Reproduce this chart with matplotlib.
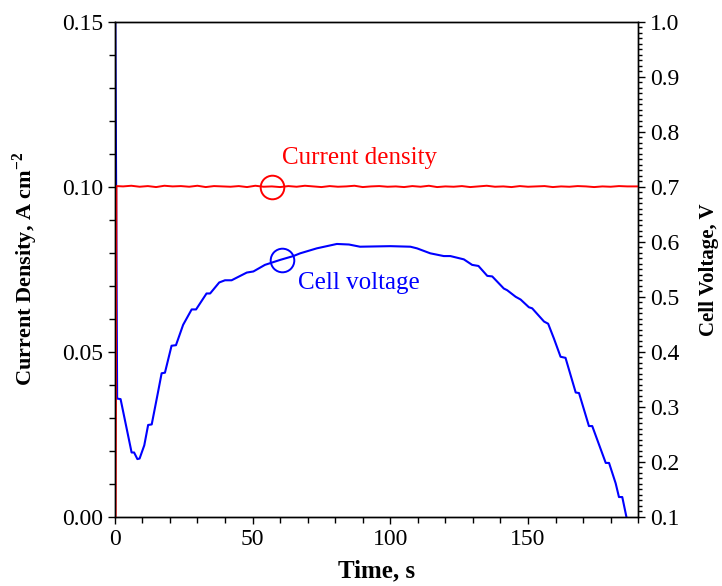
import numpy as np
import matplotlib
matplotlib.use("Agg")
import matplotlib.pyplot as plt
from matplotlib.ticker import MultipleLocator

plt.rcParams['font.family'] = ['Liberation Serif', 'DejaVu Serif']
plt.rcParams['mathtext.fontset'] = 'custom'
plt.rcParams['mathtext.rm'] = 'Liberation Serif'
plt.rcParams['mathtext.bf'] = 'Liberation Serif:bold'

# current density (A cm-2) vs time (s)
t_current = [0.0, 0.3, 0.6, 3, 6, 9, 12, 15, 18, 21, 24, 27, 30, 33, 36, 39, 42, 45,
             48, 51, 54, 57, 60, 63, 66, 69, 72, 75, 78, 81, 84, 87, 90, 93, 96, 99,
             102, 105, 108, 111, 114, 117, 120, 123, 126, 129, 132, 135, 138, 141,
             144, 147, 150, 153, 156, 159, 162, 165, 168, 171, 174, 177, 180, 183,
             186, 190]
current = [0.0, 0.0, 0.1002, 0.1001, 0.1003, 0.1000, 0.1002, 0.0999, 0.1003, 0.1001,
           0.1002, 0.1000, 0.1003, 0.0999, 0.1002, 0.1001, 0.1000, 0.1002, 0.0999,
           0.1003, 0.1000, 0.1001, 0.0999, 0.1002, 0.1000, 0.1003, 0.1001, 0.0999,
           0.1002, 0.1000, 0.1001, 0.1003, 0.0999, 0.1001, 0.1002, 0.1000, 0.1001,
           0.0999, 0.1002, 0.1000, 0.1003, 0.0999, 0.1001, 0.1000, 0.1002, 0.0999,
           0.1001, 0.1003, 0.1000, 0.1001, 0.0999, 0.1002, 0.1000, 0.1001, 0.1002,
           0.0999, 0.1001, 0.1000, 0.1002, 0.1001, 0.0999, 0.1001, 0.1000, 0.1002,
           0.1001, 0.1001]

# cell voltage (V) vs time (s)
t_voltage = [0.2, 0.85, 2.1, 6.1, 7.0, 8.2, 9.0, 10.7, 12.1, 13.4, 15.7, 17.0, 18.2,
             20.6, 22.2, 24.8, 27.9, 29.5, 33.3, 34.6, 37.9, 40.0, 42.4, 47.9, 50.3,
             54.5, 60.0, 64.8, 67.3, 73.3, 80.6, 85.0, 89.0, 100.0, 107.3, 109.7,
             114.5, 119.4, 121.8, 126.7, 129.7, 132.0, 135.2, 137.0, 141.2, 142.4,
             145.5, 147.3, 150.3, 151.5, 155.8, 157.3, 159.4, 161.8, 163.6, 167.3,
             168.5, 172.1, 173.3, 178.2, 179.4, 181.8, 183.0, 184.2, 185.7, 186.5]
voltage = [1.00, 0.315, 0.314, 0.217, 0.217, 0.205, 0.206, 0.230, 0.267, 0.268, 0.327,
           0.361, 0.362, 0.411, 0.412, 0.449, 0.477, 0.477, 0.506, 0.506, 0.526, 0.530,
           0.530, 0.544, 0.546, 0.558, 0.567, 0.574, 0.579, 0.588, 0.596, 0.595, 0.591,
           0.592, 0.591, 0.588, 0.579, 0.574, 0.574, 0.568, 0.558, 0.556, 0.538, 0.537,
           0.515, 0.512, 0.500, 0.495, 0.481, 0.479, 0.455, 0.451, 0.424, 0.391, 0.389,
           0.326, 0.325, 0.265, 0.265, 0.198, 0.198, 0.161, 0.136, 0.136, 0.100, 0.085]

fig = plt.figure(figsize=(7.22, 5.86), dpi=100)
ax = fig.add_axes([0.159, 0.118, 0.725, 0.845])
ax2 = ax.twinx()

ax2.plot(t_voltage, voltage, color='#0000ff', lw=1.5, clip_on=True)
ax.plot(t_current, current, color='#ff0000', lw=1.4)
ax.set_zorder(ax2.get_zorder() + 1)
ax.patch.set_visible(False)

ax.set_xlim(0, 190)
ax.set_ylim(0, 0.15)
ax2.set_ylim(0.1, 1.0)

ax.xaxis.set_major_locator(MultipleLocator(50))
ax.xaxis.set_minor_locator(MultipleLocator(10))
ax.yaxis.set_major_locator(MultipleLocator(0.05))
ax.yaxis.set_minor_locator(MultipleLocator(0.01))
ax2.yaxis.set_major_locator(MultipleLocator(0.1))
ax2.yaxis.set_minor_locator(MultipleLocator(0.01))
ax.yaxis.set_major_formatter(matplotlib.ticker.FormatStrFormatter('%.2f'))
ax2.yaxis.set_major_formatter(matplotlib.ticker.FormatStrFormatter('%.1f'))

ax.tick_params(which='both', direction='out', labelsize=17, width=1, top=False)
ax.tick_params(which='major', length=5)
ax.tick_params(which='minor', length=4)
ax2.tick_params(which='both', direction='out', labelsize=17, width=1)
ax2.tick_params(which='major', length=5)
ax2.tick_params(which='minor', length=3)
for a in (ax, ax2):
    for s in a.spines.values():
        s.set_linewidth(1.0)

ax.set_xlabel('Time, s', fontsize=18, fontweight='bold', labelpad=7)
ax.set_ylabel(r'Current Density, A cm$^{\mathbf{-2}}$', fontsize=16,
              fontweight='bold', labelpad=16)
ax2.set_ylabel('Cell Voltage, V', fontsize=15, fontweight='bold', labelpad=14)

# circled markers pointing to each curve
ax.plot([57], [0.100], marker='o', ms=17, mfc='none', mec='#ff0000', mew=1.4)
ax.text(60.7, 0.1087, 'Current density', color='#ff0000', fontsize=18,
        va='center', ha='left')
ax2.plot([60.6], [0.567], marker='o', ms=17, mfc='none', mec='#0000ff', mew=1.4)
ax2.text(66.5, 0.525, 'Cell voltage', color='#0000ff', fontsize=18,
         va='center', ha='left')

fig.savefig('out.png', dpi=100)
